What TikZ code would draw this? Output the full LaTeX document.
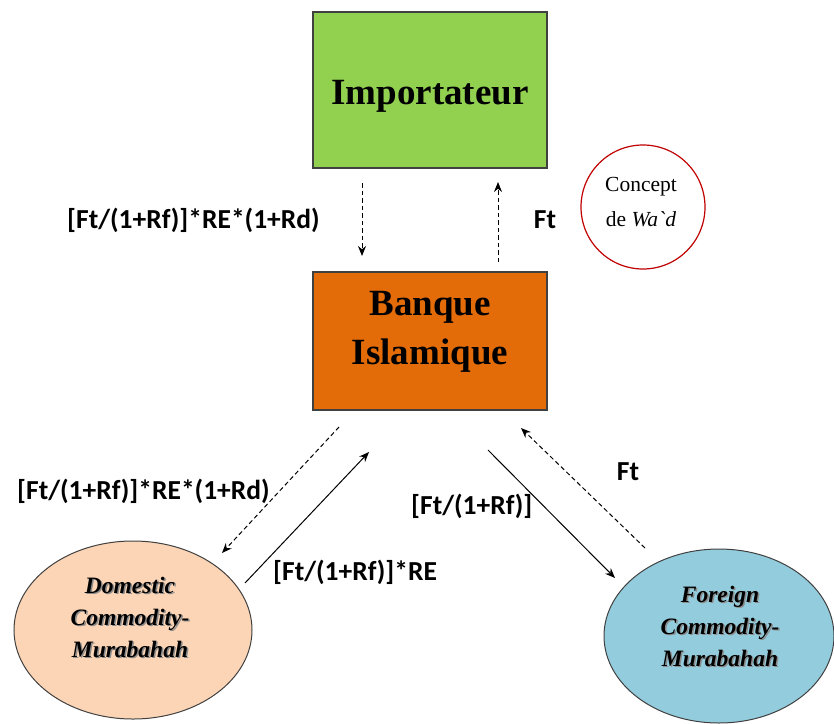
\documentclass[tikz,border=0pt]{standalone}
\usepackage{fontspec}
\setmainfont{Liberation Serif}
\newfontfamily\lblfont{Carlito}
\newfontfamily\plainserif{Liberation Serif}
\usetikzlibrary{arrows.meta,shapes.geometric}
\definecolor{impgreen}{HTML}{92D050}
\definecolor{bankorange}{HTML}{E36C09}
\definecolor{domfill}{HTML}{FBD5B5}
\definecolor{forfill}{HTML}{93CDDD}
\definecolor{wadred}{HTML}{C00000}
\definecolor{edgegray}{HTML}{404040}
% shift a line vertically while keeping its reported size
\newcommand{\shiftline}[2]{\raisebox{#1}[\height][\depth]{#2}}
\tikzset{
  mainbox/.style={draw=edgegray, line width=1.2pt, minimum width=234pt, minimum height=0pt,
    align=center, font=\bfseries\fontsize{37}{49}\selectfont, inner sep=0pt},
  murabahah/.style={ellipse, draw=edgegray, line width=1pt, inner sep=0pt},
  murtext/.style={align=center, font=\bfseries\itshape\fontsize{23.5}{32}\selectfont},
  murshadow/.style={murtext, text=black!45},
  flowlabel/.style={font=\lblfont\bfseries\fontsize{27.5}{30}\selectfont, inner sep=0pt},
  dashflow/.style={line width=1pt, dash pattern=on 4.5pt off 3pt, -{Stealth[length=10pt,width=8pt]}},
  solidflow/.style={line width=1pt, -{Stealth[length=10pt,width=8pt]}}
}
\begin{document}
\begin{tikzpicture}[x=1pt,y=-1pt]
\useasboundingbox (0,0) rectangle (834,723);

% Boxes
\node[mainbox, fill=impgreen, minimum height=156pt] (imp) at (430,90) {\shiftline{-6pt}{Importateur}};
\node[mainbox, fill=bankorange, minimum height=138pt] (bank) at (430,341)
  {\shiftline{9pt}{Banque}\\\shiftline{9pt}{Islamique}};

% Wa'd circle
\node[circle, draw=wadred, line width=1.2pt, minimum size=124pt] (wad) at (643,207) {};
\node[align=center, font=\plainserif\fontsize{21.5}{35}\selectfont] (wadtxt) at (641,202) {Concept\\de \textit{Wa`d}};

% Commodity murabahah ellipses
\node[murabahah, fill=domfill, minimum width=238pt, minimum height=178pt] (dom) at (133,630) {};
\node[murshadow] (domsh) at (131.5,618.5) {Domestic\\Commodity-\\Murabahah};
\node[murtext] (domtxt) at (130,617) {Domestic\\Commodity-\\Murabahah};

\node[murabahah, fill=forfill, minimum width=230pt, minimum height=174pt] (for) at (719,636) {};
\node[murshadow] (forsh) at (721.5,627.5) {Foreign\\Commodity-\\Murabahah};
\node[murtext] (fortxt) at (720,626) {Foreign\\Commodity-\\Murabahah};

% Connector end points
\coordinate (impdownA) at (362,183);
\coordinate (impdownB) at (362,256);
\coordinate (impupA) at (498,262);
\coordinate (impupB) at (498,182);
\coordinate (domdashA) at (339,427);
\coordinate (domdashB) at (222,553);
\coordinate (domsolA) at (245,583);
\coordinate (domsolB) at (369,452);
\coordinate (forsolA) at (488,450);
\coordinate (forsolB) at (615,578);
\coordinate (fordashA) at (645,548);
\coordinate (fordashB) at (521,428);

% Flows
\draw[dashflow] (impdownA) -- (impdownB);
\draw[dashflow] (impupA) -- (impupB);
\draw[dashflow] (domdashA) -- (domdashB);
\draw[solidflow] (domsolA) -- (domsolB);
\draw[solidflow] (forsolA) -- (forsolB);
\draw[dashflow] (fordashA) -- (fordashB);

% Flow labels
\node[flowlabel, anchor=west] (l1) at (67,220) {[Ft/(1+Rf)]*RE*(1+Rd)};
\node[flowlabel] (l2) at (545,220) {Ft};
\node[flowlabel, anchor=west] (l3) at (17,491) {[Ft/(1+Rf)]*RE*(1+Rd)};
\node[flowlabel] (l4) at (628,472) {Ft};
\node[flowlabel, anchor=west] (l5) at (411,506) {[Ft/(1+Rf)]};
\node[flowlabel, anchor=west] (l6) at (273,572) {[Ft/(1+Rf)]*RE};
\end{tikzpicture}
\end{document}
